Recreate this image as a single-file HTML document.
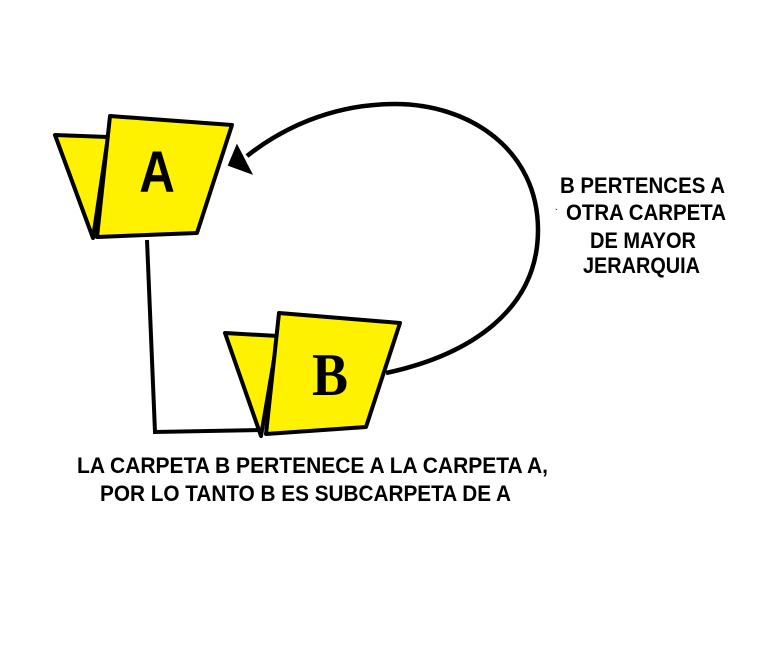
<!DOCTYPE html>
<html><head><meta charset="utf-8"><style>html,body{margin:0;padding:0;background:#fff}svg{display:block}</style></head>
<body>
<svg width="763" height="648" viewBox="0 0 763 648" xmlns="http://www.w3.org/2000/svg">
<rect width="763" height="648" fill="#fff"/>
<polyline points="147,240 155,432 262,430" fill="none" stroke="#000" stroke-width="4"/>
<path d="M386,373 C470,355 538,310 538,230 C538,150 470,104 395,104 C330,104 280,130 247,156" fill="none" stroke="#000" stroke-width="4.5"/>
<polygon points="229,165 237,146 251,173" fill="#000" stroke="#000" stroke-width="2"/>
<polygon points="55,135 108,137 93,238" fill="#fff200" stroke="#000" stroke-width="4" stroke-linejoin="round"/>
<polygon points="110,116 232,125 197,233 97,237" fill="#fff200" stroke="#000" stroke-width="4" stroke-linejoin="round"/>
<text x="0" y="0" transform="translate(157,192) scale(0.85,1)" font-family="Liberation Sans, sans-serif" font-weight="bold" font-size="58" text-anchor="middle">A</text>
<polygon points="225,333 278,336 261,436" fill="#fff200" stroke="#000" stroke-width="4" stroke-linejoin="round"/>
<polygon points="279,313 400,323 366,427 266,434" fill="#fff200" stroke="#000" stroke-width="4" stroke-linejoin="round"/>
<text x="0" y="0" transform="translate(330,395) scale(0.9,1)" font-family="Liberation Serif, serif" font-weight="bold" font-size="60" text-anchor="middle">B</text>
<g font-family="Liberation Sans, sans-serif" font-weight="bold" font-size="22" fill="#000">
<text x="560" y="193" textLength="165" lengthAdjust="spacingAndGlyphs">B PERTENCES A</text>
<text x="555" y="215" font-size="8">`</text>
<text x="566" y="220" textLength="160" lengthAdjust="spacingAndGlyphs">OTRA CARPETA</text>
<text x="590" y="248" textLength="106" lengthAdjust="spacingAndGlyphs">DE MAYOR</text>
<text x="583" y="273" textLength="117" lengthAdjust="spacingAndGlyphs">JERARQUIA</text>
<text x="77" y="473" textLength="471" lengthAdjust="spacingAndGlyphs">LA CARPETA B PERTENECE A LA CARPETA A,</text>
<text x="100" y="501" textLength="411" lengthAdjust="spacingAndGlyphs">POR LO TANTO B ES SUBCARPETA DE A</text>
</g>
</svg>
</body></html>
